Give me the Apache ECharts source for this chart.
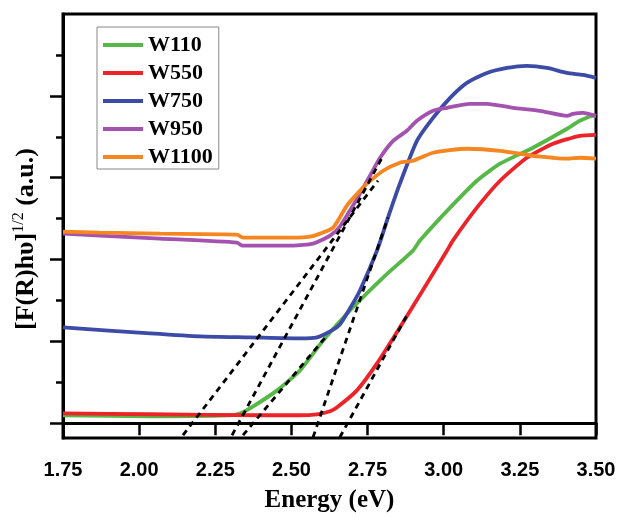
<!DOCTYPE html>
<html>
<head>
<meta charset="utf-8">
<script src="https://cdn.jsdelivr.net/npm/echarts@6/dist/echarts.min.js"></script>
<style>html,body{margin:0;padding:0;background:#fff}#c{width:618px;height:517px}</style>
</head>
<body>
<div id="c"></div>
<script>
const xTicks = [1.75, 2.00, 2.25, 2.50, 2.75, 3.00, 3.25, 3.50];
const yMajor = [0, 1, 2, 3, 4];
const yMinor = [0.5, 1.5, 2.5, 3.5, 4.5];
const names = ['W110', 'W550', 'W750', 'W950', 'W1100'];
const colors = ['#56b947', '#ec2329', '#3b4ba6', '#a452b0', '#f6861f'];

const w110 = [[1.75,0.098],[2.036,0.085],[2.298,0.098],[2.33,0.12],[2.364,0.183],[2.453,0.402],[2.528,0.646],[2.604,1.012],[2.692,1.378],[2.801,1.780],[2.899,2.110],[2.922,2.232],[3.021,2.634],[3.109,2.963],[3.185,3.171],[3.293,3.366],[3.405,3.598],[3.447,3.695],[3.490,3.756],[3.50,3.756]];
const w550 = [[1.75,0.122],[2.036,0.110],[2.40,0.098],[2.528,0.098],[2.584,0.110],[2.627,0.146],[2.65,0.195],[2.715,0.402],[2.781,0.732],[2.856,1.171],[2.945,1.707],[3.011,2.110],[3.030,2.232],[3.109,2.634],[3.185,2.963],[3.273,3.244],[3.359,3.415],[3.447,3.512],[3.50,3.524]];
const w750 = [[1.75,1.171],[2.036,1.098],[2.200,1.061],[2.364,1.049],[2.528,1.037],[2.584,1.049],[2.627,1.122],[2.659,1.207],[2.692,1.402],[2.725,1.622],[2.781,2.110],[2.817,2.512],[2.856,2.927],[2.912,3.451],[2.965,3.732],[3.021,3.976],[3.076,4.159],[3.142,4.280],[3.208,4.341],[3.273,4.366],[3.339,4.341],[3.405,4.280],[3.457,4.256],[3.50,4.220]];
const w950 = [[1.75,2.317],[1.871,2.293],[2.068,2.256],[2.321,2.207],[2.338,2.171],[2.505,2.171],[2.571,2.195],[2.627,2.293],[2.659,2.402],[2.692,2.598],[2.725,2.805],[2.758,3.024],[2.791,3.244],[2.834,3.451],[2.879,3.573],[2.912,3.695],[2.965,3.817],[3.011,3.854],[3.086,3.902],[3.142,3.902],[3.228,3.854],[3.316,3.817],[3.405,3.756],[3.424,3.780],[3.457,3.793],[3.50,3.756]];
const w1100 = [[1.75,2.341],[1.871,2.329],[2.068,2.317],[2.321,2.305],[2.341,2.268],[2.505,2.268],[2.561,2.280],[2.594,2.317],[2.637,2.390],[2.682,2.659],[2.725,2.841],[2.748,2.927],[2.801,3.085],[2.856,3.183],[2.899,3.207],[2.965,3.305],[3.076,3.354],[3.185,3.329],[3.293,3.268],[3.359,3.244],[3.405,3.232],[3.447,3.244],[3.50,3.232]];

const tangentA = [[2.144,-0.146],[2.784,2.963]];
const tangentB = [[2.305,-0.146],[2.801,3.268]];
const tangentC = [[2.341,-0.146],[2.617,1.073]];
const tangentD = [[2.571,-0.171],[2.817,2.512]];
const tangentE = [[2.659,-0.171],[2.879,1.317]];

const curves = [w110, w550, w750, w950, w1100];
const tangents = [tangentA, tangentB, tangentC, tangentD, tangentE];

const series = [];
curves.forEach((d, i) => {
  series.push({
    name: names[i], type: 'line', data: d, symbol: 'none',
    smooth: 0.2,
    lineStyle: { color: colors[i], width: 3.8 }, itemStyle: { color: colors[i] },
    z: 2
  });
});
tangents.forEach((d) => {
  series.push({
    type: 'line', data: d, symbol: 'none', silent: true,
    lineStyle: { color: '#000', width: 2.8, type: [6, 5] }, z: 3
  });
});

const chart = echarts.init(document.getElementById('c'), null, { renderer: 'canvas' });
chart.setOption({
  animation: false,
  backgroundColor: '#fff',
  grid: { left: 63, right: 22, top: 14, bottom: 79, show: true, borderColor: '#000', borderWidth: 3, backgroundColor: 'transparent', outerBoundsMode: 'none' },
  legend: {
    data: names, orient: 'vertical', left: 97, top: 27,
    icon: 'rect', itemWidth: 40, itemHeight: 4, itemGap: 6,
    padding: [7, 6, 1, 6],
    borderColor: '#888', borderWidth: 1,
    textStyle: { fontFamily: 'Liberation Serif', fontWeight: 'bold', fontSize: 22, color: '#000', lineHeight: 20, padding: [0, 0, 0, 0] }
  },
  xAxis: {
    type: 'value', min: 1.75, max: 3.5, interval: 0.25,
    name: 'Energy (eV)', nameLocation: 'middle', nameGap: 50,
    nameTextStyle: { fontFamily: 'Liberation Serif', fontWeight: 'bold', fontSize: 25, color: '#000' },
    axisLine: { lineStyle: { color: '#000', width: 3 } },
    axisTick: { show: true, inside: false, length: 12, lineStyle: { color: '#000', width: 2.5 } },
    axisLabel: { margin: 22, fontFamily: 'Liberation Sans', fontWeight: 'bold', fontSize: 20, color: '#000',
      formatter: v => v.toFixed(2), customValues: xTicks },
    splitLine: { show: false }
  },
  yAxis: [{
    type: 'value', min: -0.18, max: 5, position: 'left',
    name: '{a|[F(R)hυ]}{s|1/2}{a| (a.u.)}', nameLocation: 'middle', nameGap: 21,
    nameTextStyle: { padding: [0, 26, 0, 0],
      rich: {
        a: { fontFamily: 'Liberation Serif', fontWeight: 'bold', fontSize: 26, color: '#000' },
        s: { fontFamily: 'Liberation Serif', fontSize: 16, color: '#000', padding: [0, 0, 15, 0] }
      } },
    axisLine: { lineStyle: { color: '#000', width: 3 } },
    axisTick: { show: true, inside: false, length: 13, customValues: yMajor, lineStyle: { color: '#000', width: 2.5 } },
    axisLabel: { show: false },
    splitLine: { show: false }
  }, {
    type: 'value', min: -0.18, max: 5, position: 'left',
    axisLine: { show: false },
    axisTick: { show: true, inside: false, length: 7, customValues: yMinor, lineStyle: { color: '#000', width: 2.5 } },
    axisLabel: { show: false },
    splitLine: { show: false }
  }],
  series: series
});
</script>
</body>
</html>
